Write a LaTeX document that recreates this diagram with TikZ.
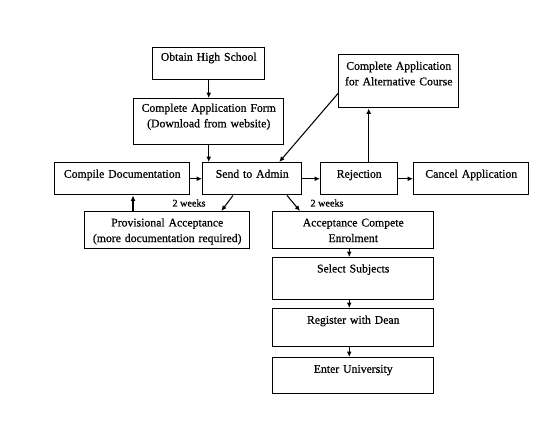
\documentclass[tikz,border=0pt]{standalone}
\usepackage{fontspec}
\setmainfont[FakeBold=0.6]{Liberation Serif}
\usetikzlibrary{arrows.meta}
\tikzset{
  box/.style={draw=black, line width=1.1pt, rectangle, inner sep=0pt, align=center,
              font=\fontsize{8.8pt}{11.7pt}\selectfont},
  flow/.style={draw=black, line width=0.8pt, -{Latex[length=4pt,width=3.6pt]}},
  weeks/.style={inner sep=0pt, font=\fontsize{7.6pt}{9pt}\selectfont}
}
\newcommand\flowbox[7]{%
  \pgfmathsetmacro\bw{(#4-#2)*0.75}%
  \pgfmathsetmacro\bh{(#5-#3)*0.75}%
  \pgfmathsetmacro\tht{#6*0.75}%
  \pgfmathsetmacro\tdp{\bh-\tht}%
  \node[box, anchor=north west, text width=\bw pt, text height=\tht pt, text depth=\tdp pt]
    (#1) at (#2,#3) {#7};%
}
\begin{document}
\begin{tikzpicture}[x=0.75pt,y=-0.75pt]
\useasboundingbox[fill=white] (0,0) rectangle (560,444);
\flowbox{obtain}{152}{47}{264}{79}{13}{Obtain High School}
\flowbox{form}{133}{98}{283}{144}{13}{Complete Application Form\\(Download from website)}
\flowbox{alt}{338}{54}{458}{107}{15}{Complete Application\\for Alternative Course}
\flowbox{comp}{54}{162}{189}{194}{15}{Compile Documentation}
\flowbox{send}{202}{162}{301}{194}{15}{Send to Admin}
\flowbox{rej}{320}{162}{397}{194}{15}{Rejection}
\flowbox{cancel}{413}{162}{528}{194}{15}{Cancel Application}
\flowbox{prov}{84}{211}{249}{248}{14.7}{Provisional Acceptance\\(more documentation required)}
\flowbox{acc}{272}{211}{433}{248}{14.7}{Acceptance Compete\\Enrolment}
\flowbox{sel}{272}{257}{433}{299}{14.7}{Select Subjects}
\flowbox{reg}{272}{308}{433}{346}{15}{Register with Dean}
\flowbox{enter}{272}{357}{433}{393}{15}{Enter University}
\node[weeks] (w1) at (189,203) {2 weeks};
\node[weeks] (w2) at (327,203) {2 weeks};
% connectors
\draw[flow] (obtain.south) -- (form.north);
\draw[flow] (form.south) -- (form.south |- send.north);
\draw[flow] ([yshift=11.25pt]alt.south west) -- ([xshift=20.25pt]send.north);
\draw[flow] (comp.east) -- (send.west);
\draw[flow] (send.east) -- (rej.west);
\draw[flow] (rej.east) -- (cancel.west);
\draw[flow] ([xshift=7.1pt]rej.north) -- ([xshift=7.1pt]rej.north |- alt.south);
\draw[flow] ([xshift=36.75pt]prov.north west) -- ([xshift=36.75pt]prov.north west |- comp.south);
\draw[flow] ([xshift=23.25pt]send.south west) -- ([xshift=103pt]prov.north west);
\draw[flow] ([xshift=63.75pt]send.south west) -- ([xshift=21pt]acc.north west);
\draw[flow] ([xshift=-3pt]acc.south) -- ([xshift=-3pt]sel.north);
\draw[flow] ([xshift=-3pt]sel.south) -- ([xshift=-3pt]reg.north);
\draw[flow] ([xshift=-3pt]reg.south) -- ([xshift=-3pt]enter.north);
\end{tikzpicture}
\end{document}
